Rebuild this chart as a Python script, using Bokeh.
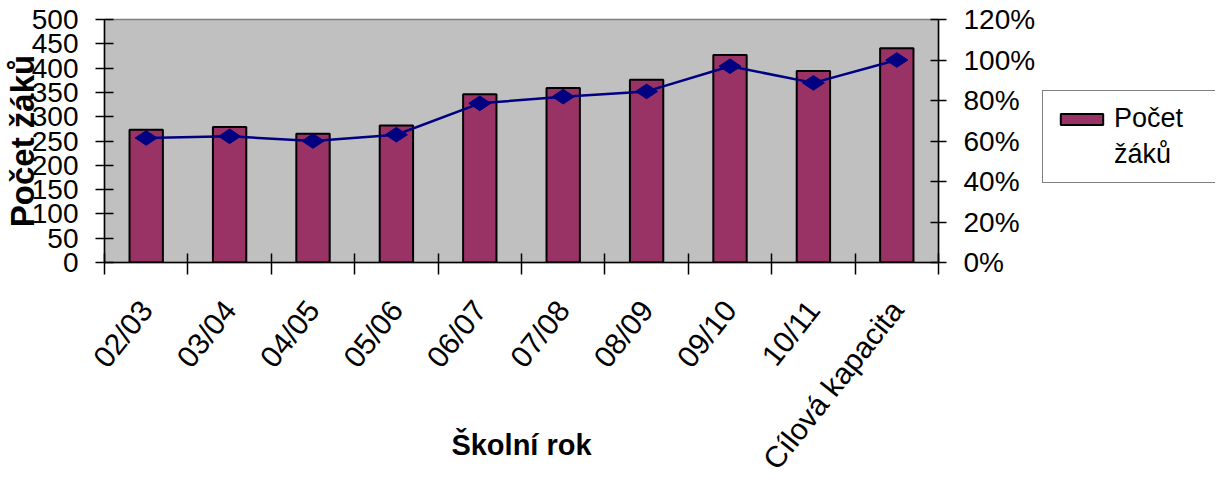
import numpy as np
from bokeh.plotting import figure
from bokeh.layouts import row
from bokeh.models import (Range1d, LinearAxis, FixedTicker, PrintfTickFormatter,
                          CustomJSTickFormatter, Legend, LegendItem)
from bokeh.embed import file_html
from bokeh.resources import INLINE

# ---- data ----
categories = ["02/03", "03/04", "04/05", "05/06", "06/07", "07/08",
              "08/09", "09/10", "10/11", "Cílová kapacita"]
pupils = [273, 279, 265, 282, 346, 359, 376, 427, 394, 441]
capacity_pct = [61.5, 62.3, 60.0, 63.1, 78.6, 81.9, 84.5, 96.9, 88.7, 100.0]
left_ticks = [0, 50, 100, 150, 200, 250, 300, 350, 400, 450, 500]
right_ticks = [0, 20, 40, 60, 80, 100, 120]
series_label_lines = ["Počet", "žáků"]
y_title = "Počet žáků"
x_title = "Školní rok"

FONT = "Liberation Sans"
BAR_FILL = "#993366"
LINE_COL = "#000080"
n = len(categories)
xs = np.arange(n) + 0.5
bounds = list(range(n + 1))

p = figure(frame_width=834, height=474,
           x_range=Range1d(0, n), y_range=Range1d(0, 500),
           output_backend="svg", toolbar_location=None,
           min_border_left=98, min_border_right=100,
           min_border_top=19, min_border_bottom=212)
p.extra_y_ranges = {"pct": Range1d(0, 120)}

p.background_fill_color = "#C0C0C0"
p.border_fill_color = "white"
p.outline_line_color = "#808080"
p.outline_line_width = 1.5
p.grid.visible = False

# bottom (category) axis: labels at centres, ticks between categories
xa = p.xaxis[0]
xa.ticker = FixedTicker(ticks=list(xs), minor_ticks=bounds)
xa.formatter = CustomJSTickFormatter(args=dict(cats=categories),
                                     code="const i = Math.floor(tick); return (i >= 0 && i < cats.length) ? cats[i] : '';")
xa.major_tick_line_color = None
xa.major_tick_in = 0
xa.major_tick_out = 12
xa.minor_tick_line_color = "black"
xa.minor_tick_line_width = 1.5
xa.minor_tick_in = 9
xa.minor_tick_out = 12
xa.major_label_orientation = 0.9
xa.major_label_standoff = 30
xa.axis_line_color = "black"
xa.axis_line_width = 1.5
xa.major_label_text_font = FONT
xa.major_label_text_font_size = "30px"
xa.major_label_text_color = "black"
xa.axis_label = x_title
xa.axis_label_text_font = FONT
xa.axis_label_text_font_size = "29px"
xa.axis_label_text_font_style = "bold"
xa.axis_label_text_color = "black"
xa.axis_label_standoff = -60

# left axis
ya = p.yaxis[0]
ya.ticker = FixedTicker(ticks=left_ticks)
ya.major_tick_in = 9
ya.major_tick_out = 9
ya.major_tick_line_width = 1.5
ya.minor_tick_line_color = None
ya.axis_line_color = "black"
ya.axis_line_width = 1.5
ya.major_label_standoff = 17
ya.major_label_text_font = FONT
ya.major_label_text_font_size = "28px"
ya.major_label_text_color = "black"
ya.axis_label = y_title
ya.axis_label_text_font = FONT
ya.axis_label_text_font_size = "33px"
ya.axis_label_text_font_style = "bold"
ya.axis_label_text_color = "black"
ya.axis_label_standoff = -12

# right axis
ra = LinearAxis(y_range_name="pct", ticker=FixedTicker(ticks=right_ticks),
                formatter=PrintfTickFormatter(format="%d%%"))
ra.major_tick_in = 8
ra.major_tick_out = 8
ra.major_tick_line_width = 1.5
ra.minor_tick_line_color = None
ra.axis_line_color = "black"
ra.axis_line_width = 1.5
ra.major_label_standoff = 17
ra.major_label_text_font = FONT
ra.major_label_text_font_size = "28px"
ra.major_label_text_color = "black"
p.add_layout(ra, "right")

# bars
bars = p.vbar(x=xs, top=pupils, bottom=0, width=0.4,
              fill_color=BAR_FILL, line_color="black", line_width=2)

# percentage line
p.line(xs, capacity_pct, y_range_name="pct", line_color=LINE_COL, line_width=2.5)
p.scatter(xs, capacity_pct, y_range_name="pct", marker="diamond", angle=np.pi / 2,
          size=22, fill_color=LINE_COL, line_color=LINE_COL)

# legend panel (separate, axis-less figure to the right of the chart;
# its frame is aligned with the chart's frame by the row layout)
lp = figure(width=177, height=474, x_range=Range1d(0, 1), y_range=Range1d(0, 1),
            output_backend="svg", toolbar_location=None,
            x_axis_location=None, y_axis_location=None,
            min_border_left=0, min_border_right=0,
            min_border_top=19, min_border_bottom=212)
lp.outline_line_color = None
lp.grid.visible = False
lp.background_fill_color = "white"
lp.border_fill_color = "white"
legend_bars = lp.vbar(x=xs, top=pupils, bottom=0, width=0.4,
                      fill_color=BAR_FILL, line_color="black", line_width=2,
                      visible=False)

legend = Legend(items=[LegendItem(label=series_label_lines[0], renderers=[legend_bars]),
                       LegendItem(label=series_label_lines[1], renderers=[])],
                location=(4, 79), orientation="vertical")
legend.label_text_font = FONT
legend.label_text_font_size = "27px"
legend.label_text_color = "black"
legend.glyph_width = 53
legend.glyph_height = 14
legend.label_standoff = 6
legend.label_height = 28
legend.label_width = 90
legend.spacing = 5
legend.padding = 12
legend.margin = 0
legend.inactive_fill_alpha = 0.0
legend.border_line_color = "black"
legend.border_line_width = 1
legend.background_fill_color = "white"
legend.background_fill_alpha = 1.0
lp.add_layout(legend, "center")

layout = row(p, lp)
open("out.html", "w").write(file_html(layout, INLINE))
